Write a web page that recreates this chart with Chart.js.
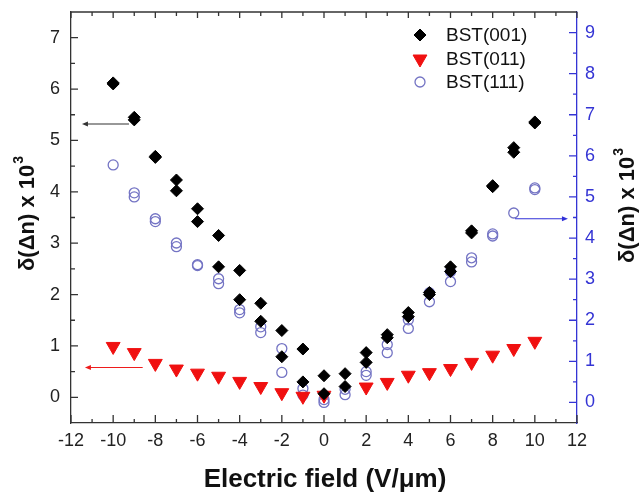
<!DOCTYPE html>
<html>
<head>
<meta charset="utf-8">
<script src="https://cdn.jsdelivr.net/npm/chart.js@4.4.0/dist/chart.umd.min.js"></script>
<style>
  html, body { margin: 0; padding: 0; background: #fff; }
  #wrap { width: 642px; height: 493px; }
</style>
</head>
<body>
<div id="wrap"><canvas id="fieldChart" width="642" height="493"></canvas></div>
<script>
// Electric field values (V/um)
const fieldValues = [-10, -9, -8, -7, -6, -5, -4, -3, -2, -1, 0, 1, 2, 3, 4, 5, 6, 7, 8, 9, 10];

// BST(001) - left axis, two sweeps
const bst001Up   = [6.12, 5.45, 4.69, 4.23, 3.67, 3.15, 2.47, 1.83, 1.30, 0.94, 0.42, 0.46, 0.87, 1.22, 1.65, 2.04, 2.54, 3.24, 4.12, 4.86, 5.36];
const bst001Down = [6.10, 5.40, 4.67, 4.02, 3.42, 2.54, 1.90, 1.48, 0.79, 0.30, 0.07, 0.21, 0.68, 1.16, 1.57, 2.00, 2.45, 3.20, 4.10, 4.77, 5.34];

// BST(011) - left axis
const bst011 = [0.99, 0.87, 0.66, 0.55, 0.47, 0.41, 0.31, 0.21, 0.09, 0.02, 0.04, null, 0.20, 0.29, 0.43, 0.48, 0.56, 0.68, 0.82, 0.95, 1.09];

// BST(111) - right axis, two sweeps
const bst111Up   = [5.78, 5.10, 4.47, 3.88, 3.35, 3.01, 2.26, 1.84, 1.31, 0.34, 0.07, 0.32, 0.75, 1.41, 2.01, 2.67, 3.18, 3.52, 4.10, 4.61, 5.22];
const bst111Down = [null, 5.00, 4.40, 3.79, 3.33, 2.89, 2.18, 1.70, 0.73, 0.18, 0.00, 0.19, 0.66, 1.21, 1.80, 2.45, 2.94, 3.42, 4.05, null, 5.18];

// Tick labels
const xTicks = [-12, -10, -8, -6, -4, -2, 0, 2, 4, 6, 8, 10, 12];
const leftTicks = [0, 1, 2, 3, 4, 5, 6, 7];
const rightTicks = [0, 1, 2, 3, 4, 5, 6, 7, 8, 9];

const seriesNames = ["BST(001)", "BST(011)", "BST(111)"];

// Arrows pointing to each series' axis (data units)
const arrows = [
  { axis: "y", y: 5.32, from: -9.25, to: -11.48, color: "#333" },
  { axis: "y", y: 0.58, from: -8.6, to: -11.34, color: "#ee1c1c" },
  { axis: "y2", y: 4.47, from: 9.06, to: 11.57, color: "#3030d8" }
];

const blue = "#3434d4";
const frame = "#333";

function toPoints(ys) {
  const pts = [];
  ys.forEach((v, i) => {
    if (v !== null) pts.push({ x: fieldValues[i], y: v });
  });
  return pts;
}

// drop the label overflow padding so the plot box sits where the layout says
function noPad(s) {
  s.paddingTop = 0;
  s.paddingBottom = 0;
  s.paddingLeft = 0;
  s.paddingRight = 0;
}

Chart.defaults.font.family = "'Liberation Sans', Arial, sans-serif";

// Inward tick marks and top frame line
const tickPlugin = {
  id: "inwardTicks",
  afterDraw(chart) {
    const { ctx, chartArea: a, scales } = chart;
    ctx.save();
    ctx.lineWidth = 1.3;

    ctx.strokeStyle = frame;
    ctx.beginPath();
    ctx.moveTo(a.left, a.top);
    ctx.lineTo(a.right, a.top);
    ctx.stroke();

    ctx.beginPath();
    for (let v = -12; v <= 12; v++) {
      const px = scales.x.getPixelForValue(v);
      const major = v % 2 === 0;
      ctx.moveTo(px, a.bottom);
      ctx.lineTo(px, a.bottom - (major ? 8 : 4));
      ctx.moveTo(px, a.top);
      ctx.lineTo(px, a.top + (major ? 6 : 4));
    }
    for (let v = 0; v <= 7; v += 0.5) {
      const py = scales.y.getPixelForValue(v);
      ctx.moveTo(a.left, py);
      ctx.lineTo(a.left + (v % 1 === 0 ? 7 : 4), py);
    }
    ctx.stroke();

    ctx.strokeStyle = blue;
    ctx.beginPath();
    for (let v = 0; v <= 9; v += 0.5) {
      const py = scales.y2.getPixelForValue(v);
      ctx.moveTo(a.right, py);
      ctx.lineTo(a.right - (v % 1 === 0 ? 8 : 4), py);
    }
    ctx.stroke();
    ctx.restore();
  }
};

// Arrows, legend and axis titles
const annotatePlugin = {
  id: "annotate",
  afterDraw(chart) {
    const { ctx, scales } = chart;
    ctx.save();

    arrows.forEach(ar => {
      const yScale = scales[ar.axis];
      const py = yScale.getPixelForValue(ar.y);
      const x0 = scales.x.getPixelForValue(ar.from);
      const x1 = scales.x.getPixelForValue(ar.to);
      const dir = Math.sign(x1 - x0);
      ctx.strokeStyle = ar.color;
      ctx.fillStyle = ar.color;
      ctx.lineWidth = 1.2;
      ctx.beginPath();
      ctx.moveTo(x0, py);
      ctx.lineTo(x1 - dir * 4, py);
      ctx.stroke();
      ctx.beginPath();
      ctx.moveTo(x1, py);
      ctx.lineTo(x1 - dir * 6, py - 2.5);
      ctx.lineTo(x1 - dir * 6, py + 2.5);
      ctx.closePath();
      ctx.fill();
    });

    // legend
    const rows = [35, 59, 82];
    chart.data.datasets.forEach((ds, i) => {
      ctx.fillStyle = ds.backgroundColor;
      ctx.strokeStyle = ds.borderColor;
      ctx.lineWidth = ds.borderWidth;
      Chart.helpers.drawPoint(ctx, {
        pointStyle: ds.pointStyle,
        rotation: ds.rotation || 0,
        radius: ds.pointRadius,
        borderWidth: ds.borderWidth
      }, 420, rows[i]);
      ctx.fillStyle = "#111";
      ctx.font = "19px 'Liberation Sans', Arial, sans-serif";
      ctx.textAlign = "left";
      ctx.textBaseline = "middle";
      ctx.fillText(ds.label, 446, rows[i] + 1);
    });

    // titles
    ctx.fillStyle = "#111";
    ctx.textBaseline = "alphabetic";
    ctx.textAlign = "center";
    ctx.font = "bold 26px 'Liberation Sans', Arial, sans-serif";
    ctx.fillText("Electric field (V/\u03bcm)", 325, 487);

    function yTitle(x, y) {
      const main = "\u03b4(\u0394n) x 10";
      ctx.save();
      ctx.translate(x, y);
      ctx.rotate(-Math.PI / 2);
      ctx.font = "bold 22px 'Liberation Sans', Arial, sans-serif";
      const w1 = ctx.measureText(main).width;
      ctx.font = "bold 14px 'Liberation Sans', Arial, sans-serif";
      const w2 = ctx.measureText("3").width;
      const start = -(w1 + w2) / 2;
      ctx.textAlign = "left";
      ctx.font = "bold 22px 'Liberation Sans', Arial, sans-serif";
      ctx.fillText(main, start, 0);
      ctx.font = "bold 14px 'Liberation Sans', Arial, sans-serif";
      ctx.fillText("3", start + w1 + 1, -11);
      ctx.restore();
    }
    yTitle(34, 214);
    yTitle(634, 206);

    ctx.restore();
  }
};

new Chart(document.getElementById("fieldChart"), {
  type: "scatter",
  data: {
    datasets: [
      {
        label: seriesNames[0],
        data: toPoints(bst001Up).concat(toPoints(bst001Down)),
        yAxisID: "y",
        pointStyle: "rectRot",
        pointRadius: 6,
        backgroundColor: "#000",
        borderColor: "#000",
        borderWidth: 1
      },
      {
        label: seriesNames[1],
        data: toPoints(bst011),
        yAxisID: "y",
        pointStyle: "triangle",
        rotation: 180,
        pointRadius: 8,
        backgroundColor: "#f01010",
        borderColor: "#f01010",
        borderWidth: 1
      },
      {
        label: seriesNames[2],
        data: toPoints(bst111Up).concat(toPoints(bst111Down)),
        yAxisID: "y2",
        pointStyle: "circle",
        pointRadius: 5,
        backgroundColor: "rgba(0,0,0,0)",
        borderColor: "#7474c4",
        borderWidth: 1.3
      }
    ]
  },
  options: {
    responsive: false,
    devicePixelRatio: 1,
    animation: false,
    layout: { padding: { top: 12, left: 0, right: 0, bottom: 0 } },
    plugins: {
      legend: { display: false },
      tooltip: { enabled: false }
    },
    scales: {
      x: {
        type: "linear",
        position: "bottom",
        min: -12,
        max: 12,
        afterBuildTicks: s => { s.ticks = xTicks.map(v => ({ value: v })); },
        afterFit: s => { s.height = 70; noPad(s); },
        grid: { display: false, drawTicks: false },
        border: { display: true, color: frame, width: 1.3 },
        ticks: { color: "#222", font: { size: 18 }, padding: 7, maxRotation: 0, autoSkip: false }
      },
      y: {
        type: "linear",
        position: "left",
        min: -0.5,
        max: 7.5,
        afterBuildTicks: s => { s.ticks = leftTicks.map(v => ({ value: v })); },
        afterFit: s => { s.width = 71; noPad(s); },
        grid: { display: false, drawTicks: false },
        border: { display: true, color: frame, width: 1.3 },
        ticks: { color: "#222", font: { size: 18 }, padding: 11 }
      },
      y2: {
        type: "linear",
        position: "right",
        min: -0.5,
        max: 9.5,
        afterBuildTicks: s => { s.ticks = rightTicks.map(v => ({ value: v })); },
        afterFit: s => { s.width = 65; noPad(s); },
        grid: { display: false, drawTicks: false },
        border: { display: true, color: blue, width: 1.3 },
        ticks: { color: blue, font: { size: 18 }, padding: 8 }
      }
    }
  },
  plugins: [tickPlugin, annotatePlugin]
});
</script>
</body>
</html>
